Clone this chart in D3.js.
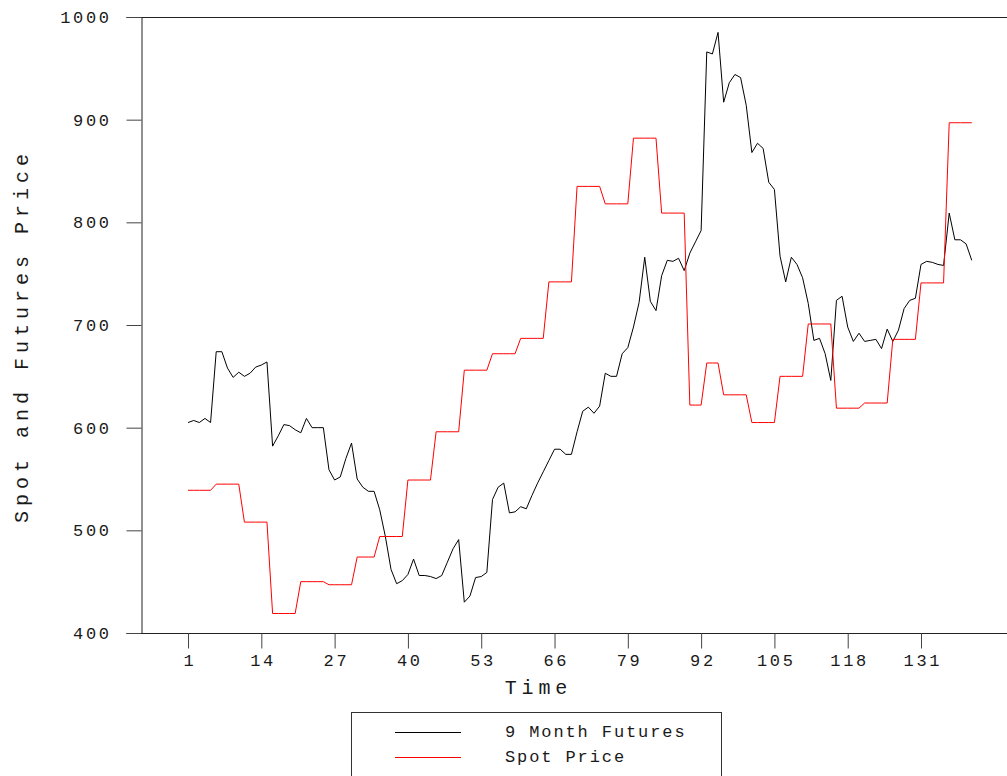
<!DOCTYPE html>
<html>
<head>
<meta charset="utf-8">
<script src="https://cdn.jsdelivr.net/npm/d3@7/dist/d3.min.js"></script>
<style>
  html, body { margin: 0; padding: 0; background: #fff; }
  svg { display: block; }
  text { font-family: "Liberation Mono", "DejaVu Sans Mono", monospace; fill: #1a1a1a; }
</style>
</head>
<body>
<svg id="chart" width="1007" height="776"></svg>
<script>
// 9-month futures price, periods 1..140
const futures = [
  605, 607, 605, 609, 605, 674, 674, 658, 649, 654,
  650, 653, 659, 661, 664, 582, 592, 603, 602, 598,
  595, 609, 600, 600, 600, 559, 549, 552, 570, 585,
  550, 542, 538, 538, 520, 494, 462, 448, 451, 457,
  472, 456, 456, 455, 453, 456, 469, 482, 491, 430,
  436, 454, 455, 459, 530, 542, 546, 517, 518, 523,
  521, 534, 546, 557, 568, 579, 579, 574, 574, 596,
  616, 620, 614, 621, 653, 650, 650, 672, 678, 698,
  722, 766, 723, 714, 748, 763, 762, 765, 753, 770,
  781, 792, 966, 964, 985, 917, 936, 944, 941, 914,
  868, 877, 872, 839, 832, 767, 742, 766, 759, 746,
  721, 685, 687, 672, 646, 724, 728, 698, 684, 692,
  684, 685, 686, 677, 696, 684, 695, 716, 724, 726,
  759, 762, 761, 759, 758, 809, 783, 783, 779, 763
];

// Spot price, periods 1..140
const spot = [
  539, 539, 539, 539, 539, 545, 545, 545, 545, 545,
  508, 508, 508, 508, 508, 419, 419, 419, 419, 419,
  450, 450, 450, 450, 450, 447, 447, 447, 447, 447,
  474, 474, 474, 474, 494, 494, 494, 494, 494, 549,
  549, 549, 549, 549, 596, 596, 596, 596, 596, 656,
  656, 656, 656, 656, 672, 672, 672, 672, 672, 687,
  687, 687, 687, 687, 742, 742, 742, 742, 742, 835,
  835, 835, 835, 835, 818, 818, 818, 818, 818, 882,
  882, 882, 882, 882, 809, 809, 809, 809, 809, 622,
  622, 622, 663, 663, 663, 632, 632, 632, 632, 632,
  605, 605, 605, 605, 605, 650, 650, 650, 650, 650,
  701, 701, 701, 701, 701, 619, 619, 619, 619, 619,
  624, 624, 624, 624, 624, 686, 686, 686, 686, 686,
  741, 741, 741, 741, 741, 897, 897, 897, 897, 897
];

const xTicks = [1, 14, 27, 40, 53, 66, 79, 92, 105, 118, 131];
const yTicks = [400, 500, 600, 700, 800, 900, 1000];
const seriesNames = ["9 Month Futures", "Spot Price"];
const seriesColors = ["#000000", "#ff0000"];
const xTitle = "Time";
const yTitle = "Spot and Futures Price";

const W = 1007, H = 776;
const plot = { left: 141, top: 17, right: 1007, bottom: 633 };

const svg = d3.select("#chart");

const x = d3.scaleLinear().domain([-7.34, 146.25]).range([plot.left, plot.right]);
const y = d3.scaleLinear().domain([400, 1000]).range([plot.bottom, plot.top]);

const FS = 17;   // tick label font size
const LS = 2.6;  // tick label letter spacing

// Frame: top rule
svg.append("line")
  .attr("x1", plot.left).attr("x2", W)
  .attr("y1", plot.top + 0.5).attr("y2", plot.top + 0.5)
  .attr("stroke", "#222").attr("stroke-width", 1);

// Y axis
const yAxis = svg.append("g")
  .attr("transform", `translate(${plot.left + 0.5},0)`)
  .call(d3.axisLeft(y).tickValues(yTicks).tickSize(15).tickPadding(15).tickFormat(d3.format("d")));
yAxis.select(".domain").attr("stroke", "#222");
yAxis.selectAll(".tick line").attr("stroke", "#444");
yAxis.selectAll(".tick text")
  .style("font-family", '"Liberation Mono", monospace')
  .style("font-size", FS + "px")
  .style("letter-spacing", LS + "px")
  .attr("fill", "#1a1a1a");

// X axis
const xAxis = svg.append("g")
  .attr("transform", `translate(0,${plot.bottom + 0.5})`)
  .call(d3.axisBottom(x).tickValues(xTicks).tickSize(15).tickPadding(5).tickFormat(d3.format("d")));
xAxis.select(".domain").attr("stroke", "#222").attr("d", `M${plot.left},0H${W}`);
xAxis.selectAll(".tick line").attr("stroke", "#444");
xAxis.selectAll(".tick text")
  .style("font-family", '"Liberation Mono", monospace')
  .style("font-size", FS + "px")
  .style("letter-spacing", LS + "px")
  .attr("dx", LS / 2)
  .attr("fill", "#1a1a1a");

// Axis titles
svg.append("text")
  .attr("x", 536 + 2.4).attr("y", 694)
  .attr("text-anchor", "middle")
  .style("font-size", "20px")
  .style("letter-spacing", "4.8px")
  .text(xTitle);

svg.append("text")
  .attr("transform", `translate(28,${336}) rotate(-90)`)
  .attr("text-anchor", "middle")
  .style("font-size", "20px")
  .style("letter-spacing", "5px")
  .text(yTitle);

// Series lines
const periods = futures.map((_, i) => i + 1);
const line = d3.line().x(d => x(d[0])).y(d => y(d[1]));

[futures, spot].forEach((vals, k) => {
  svg.append("path")
    .datum(periods.map((p, i) => [p, vals[i]]))
    .attr("fill", "none")
    .attr("stroke", seriesColors[k])
    .attr("stroke-width", 1)
    .attr("stroke-linejoin", "round")
    .attr("d", line);
});

// Legend
const legend = svg.append("g");
legend.append("rect")
  .attr("x", 351.5).attr("y", 712.5)
  .attr("width", 370).attr("height", 80)
  .attr("fill", "none").attr("stroke", "#333").attr("stroke-width", 1);

seriesNames.forEach((name, k) => {
  const ly = 732 + k * 25;
  legend.append("line")
    .attr("x1", 395).attr("x2", 461)
    .attr("y1", ly + 0.5).attr("y2", ly + 0.5)
    .attr("stroke", seriesColors[k]).attr("stroke-width", 1);
  legend.append("text")
    .attr("x", 505).attr("y", ly + 5)
    .style("font-size", FS + "px")
    .style("letter-spacing", "1.9px")
    .text(name);
});
</script>
</body>
</html>
